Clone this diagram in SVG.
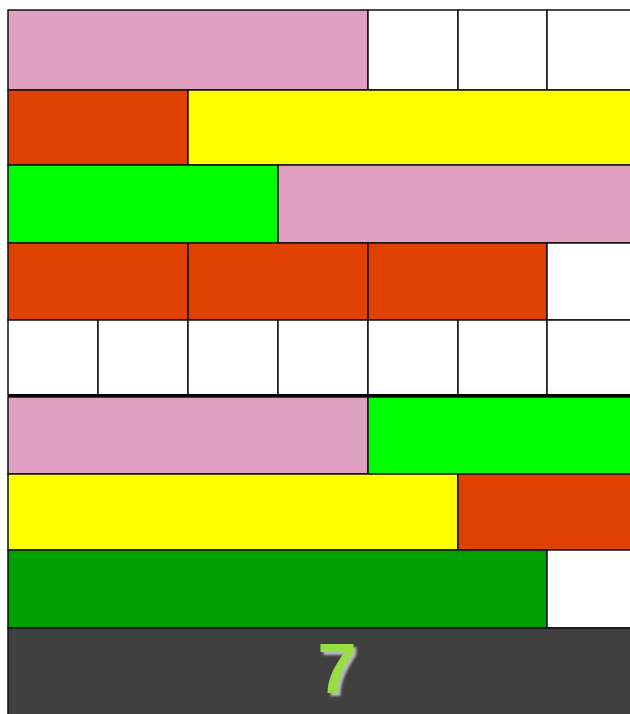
<svg xmlns="http://www.w3.org/2000/svg" width="630" height="714" viewBox="0 0 630 714">
<style>
.c{stroke:#111;stroke-width:1.5}
.p{fill:#e0a0c2}.w{fill:#fff}.r{fill:#e04000}.y{fill:#ffff00}.g{fill:#00ff00}.d{fill:#00a000}.k{fill:#404040}
.t{font-family:"Liberation Sans",Arial,sans-serif;font-weight:bold;font-size:70px;text-anchor:middle;fill:#99dd44}
</style>
<defs>
<filter id="sh" x="-50%" y="-50%" width="200%" height="200%">
<feDropShadow dx="3" dy="3" stdDeviation="0.8" flood-color="#b8b8b8" flood-opacity="1"/>
</filter>
</defs>
<rect x="0" y="0" width="630" height="714" fill="#fff"/>
<g id="row1">
<rect class="c p" x="8" y="10" width="360" height="80"/>
<rect class="c w" x="368" y="10" width="90" height="80"/>
<rect class="c w" x="458" y="10" width="89" height="80"/>
<rect class="c w" x="547" y="10" width="90" height="80"/>
</g>
<g id="row2">
<rect class="c r" x="8" y="90" width="180" height="75"/>
<rect class="c y" x="188" y="90" width="450" height="75"/>
</g>
<g id="row3">
<rect class="c g" x="8" y="165" width="270" height="78"/>
<rect class="c p" x="278" y="165" width="360" height="78"/>
</g>
<g id="row4">
<rect class="c r" x="8" y="243" width="180" height="77"/>
<rect class="c r" x="188" y="243" width="180" height="77"/>
<rect class="c r" x="368" y="243" width="179" height="77"/>
<rect class="c w" x="547" y="243" width="90" height="77"/>
</g>
<g id="row5">
<rect class="c w" x="8" y="320" width="90" height="75"/>
<rect class="c w" x="98" y="320" width="90" height="75"/>
<rect class="c w" x="188" y="320" width="90" height="75"/>
<rect class="c w" x="278" y="320" width="90" height="75"/>
<rect class="c w" x="368" y="320" width="90" height="75"/>
<rect class="c w" x="458" y="320" width="89" height="75"/>
<rect class="c w" x="547" y="320" width="90" height="75"/>
<line x1="8" y1="395.5" x2="630" y2="395.5" stroke="#000" stroke-width="3"/>
</g>
<g id="row6">
<rect class="c p" x="8" y="397" width="360" height="77"/>
<rect class="c g" x="368" y="397" width="270" height="77"/>
</g>
<g id="row7">
<rect class="c y" x="8" y="474" width="450" height="76"/>
<rect class="c r" x="458" y="474" width="180" height="76"/>
</g>
<g id="row8">
<rect class="c d" x="8" y="550" width="539" height="78"/>
<rect class="c w" x="547" y="550" width="90" height="78"/>
</g>
<g id="footer">
<rect class="c k" x="8" y="628" width="630" height="90"/>
<text class="t" x="337" y="693" filter="url(#sh)">7</text>
</g>
</svg>
